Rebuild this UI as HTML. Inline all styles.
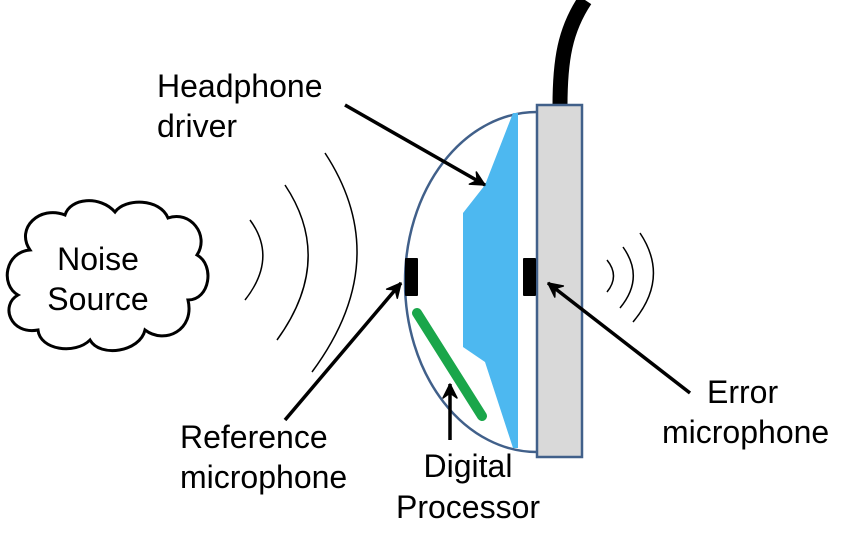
<!DOCTYPE html>
<html><head><meta charset="utf-8"><style>
html,body{margin:0;padding:0;background:#fff;}
svg{display:block;}
text{font-family:"Liberation Sans",sans-serif;font-size:32px;fill:#000;}
</style></head><body>
<svg width="850" height="551" viewBox="0 0 850 551" xmlns="http://www.w3.org/2000/svg">
<defs>
<marker id="ah" markerWidth="18" markerHeight="18" refX="16" refY="9" orient="auto" markerUnits="userSpaceOnUse">
<path d="M2,2 L16,9 L2,16 L7,9 Z" fill="#000" stroke="#000" stroke-width="1.5" stroke-linejoin="round"/>
</marker>
</defs>
<path d="M560,106 C560,60 565,30 585,0" fill="none" stroke="#000" stroke-width="15"/>
<path d="M537,112 A132,170 0 0 0 537,452" fill="#fff" stroke="#41608a" stroke-width="2.5"/>
<polygon points="513,113 518,113 518,448 513,448 485,362 463,347 463,213 485,185" fill="#4db8f0"/>
<rect x="537" y="105" width="45" height="352" fill="#d9d9d9" stroke="#41608a" stroke-width="2.5"/>
<rect x="405" y="258" width="13" height="38" fill="#000" rx="1"/>
<rect x="523" y="258" width="13" height="38" fill="#000" rx="1"/>
<line x1="417" y1="313" x2="482" y2="416" stroke="#1aa64a" stroke-width="10" stroke-linecap="round"/>
<path d="M30,250 C15,228 40,205 65,215 C70,198 100,195 115,212 C125,198 160,198 168,218 C190,210 210,235 197,255 C215,265 210,300 188,300 C195,330 165,345 145,330 C140,352 100,358 90,340 C75,355 40,350 38,330 C10,335 0,305 18,295 C0,285 5,252 30,250 Z" fill="#fff" stroke="#000" stroke-width="3"/>
<text x="98" y="270" text-anchor="middle">Noise</text>
<text x="98" y="310" text-anchor="middle">Source</text>
<g fill="none" stroke="#000" stroke-width="1.5">
<path d="M250,220 Q278,258 245,300"/>
<path d="M285,185 Q335,260 277,340"/>
<path d="M325,153 Q395,260 312,372"/>
<path d="M607,260 Q620,276 607,292"/>
<path d="M623,247 Q645,278 620,308"/>
<path d="M640,233 Q670,278 633,322"/>
</g>
<g stroke="#000" stroke-width="3.5" fill="none">
<line x1="345" y1="105" x2="485" y2="185" marker-end="url(#ah)"/>
<line x1="285" y1="420" x2="401" y2="283" marker-end="url(#ah)"/>
<line x1="450" y1="440" x2="450" y2="384" marker-end="url(#ah)"/>
<line x1="690" y1="393" x2="548" y2="283" marker-end="url(#ah)"/>
</g>
<text x="157" y="97">Headphone</text>
<text x="157" y="137">driver</text>
<text x="180" y="448">Reference</text>
<text x="180" y="488">microphone</text>
<text x="468" y="477" text-anchor="middle">Digital</text>
<text x="468" y="518" text-anchor="middle">Processor</text>
<text x="707" y="403">Error</text>
<text x="662" y="443">microphone</text>
</svg>
</body></html>
